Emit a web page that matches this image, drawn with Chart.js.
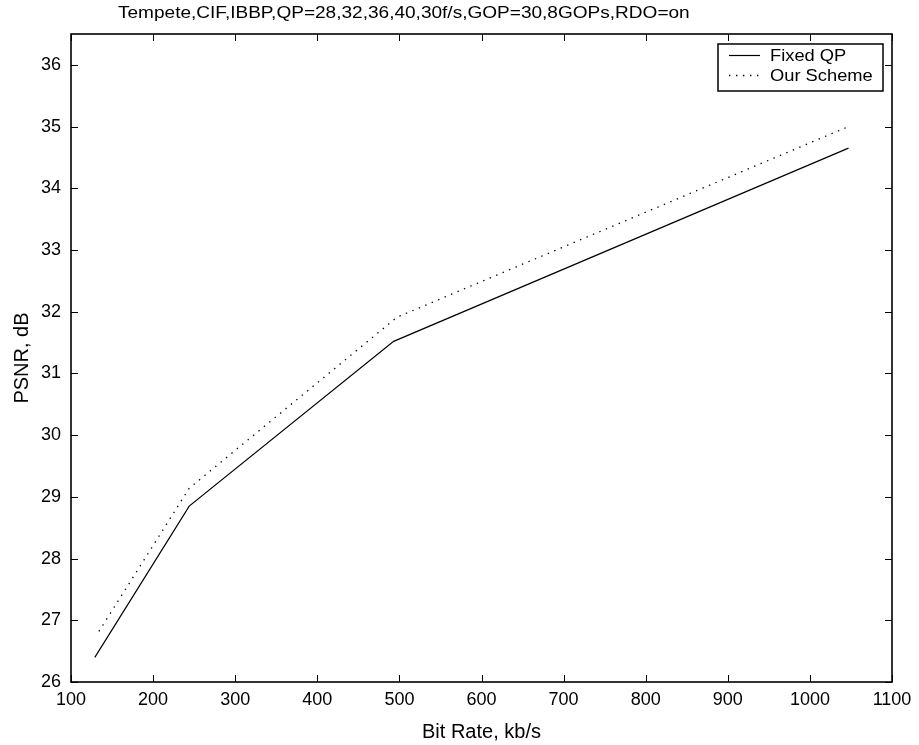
<!DOCTYPE html>
<html>
<head>
<meta charset="utf-8">
<script src="https://cdn.jsdelivr.net/npm/chart.js@4.4.1/dist/chart.umd.min.js"></script>
<style>
  html, body { margin: 0; padding: 0; background: #ffffff; }
  #wrap { width: 919px; height: 745px; }
</style>
</head>
<body>
<div id="wrap"><canvas id="c" width="919" height="745"></canvas></div>
<script>
// ---- data ----
const chartTitle = "Tempete,CIF,IBBP,QP=28,32,36,40,30f/s,GOP=30,8GOPs,RDO=on";
const xAxisTitle = "Bit Rate, kb/s";
const yAxisTitle = "PSNR, dB";
const seriesNames = ["Fixed QP", "Our Scheme"];

const fixedQpRate = [129, 244, 493, 1047];
const fixedQpPsnr = [26.40, 28.85, 31.52, 34.65];

const ourSchemeRate = [134, 244, 497, 1047];
const ourSchemePsnr = [26.82, 29.14, 31.91, 35.00];

const xTicks = [100, 200, 300, 400, 500, 600, 700, 800, 900, 1000, 1100];
const yTicks = [26, 27, 28, 29, 30, 31, 32, 33, 34, 35, 36];
const xRange = [100, 1100];
const yRange = [26, 36.5];

// ---- styling ----
const FONT = "'Liberation Sans', Arial, Helvetica, sans-serif";
const DOT_DASH = [1.4, 5.6];

function toPoints(xs, ys) { return xs.map((x, i) => ({ x: x, y: ys[i] })); }

const framePlugin = {
  id: 'frame',
  afterDraw(chart) {
    const ctx = chart.ctx;
    const a = chart.chartArea;
    const xs = chart.scales.x, ys = chart.scales.y;
    ctx.save();
    // box
    ctx.strokeStyle = '#000';
    ctx.lineWidth = 1.6;
    ctx.setLineDash([]);
    ctx.strokeRect(a.left, a.top, a.right - a.left, a.bottom - a.top);
    // inward ticks on all four sides
    const tl = 7;
    ctx.lineWidth = 1;
    ctx.beginPath();
    xTicks.forEach(v => {
      const px = Math.round(xs.getPixelForValue(v)) + 0.5;
      ctx.moveTo(px, a.bottom); ctx.lineTo(px, a.bottom - tl);
      ctx.moveTo(px, a.top); ctx.lineTo(px, a.top + tl);
    });
    yTicks.forEach(v => {
      const py = Math.round(ys.getPixelForValue(v)) + 0.5;
      ctx.moveTo(a.left, py); ctx.lineTo(a.left + tl, py);
      ctx.moveTo(a.right, py); ctx.lineTo(a.right - tl, py);
    });
    ctx.stroke();

    // title (slightly widened glyphs like the reference)
    ctx.fillStyle = '#000';
    ctx.font = '16px ' + FONT;
    ctx.textBaseline = 'middle';
    ctx.textAlign = 'left';
    ctx.save();
    ctx.translate(118, 14);
    ctx.scale(1.19, 1);
    ctx.fillText(chartTitle, 0, 0);
    ctx.restore();

    // legend box
    const lx = 718, ly = 44, lw = 165, lh = 47;
    ctx.fillStyle = '#fff';
    ctx.fillRect(lx, ly, lw, lh);
    ctx.lineWidth = 1.5;
    ctx.strokeStyle = '#000';
    ctx.strokeRect(lx, ly, lw, lh);
    const rows = [55.5, 75.5];
    ctx.font = '16.5px ' + FONT;
    chart.data.datasets.forEach((ds, i) => {
      ctx.beginPath();
      ctx.lineWidth = ds.borderWidth;
      ctx.setLineDash(ds.borderDash || []);
      ctx.moveTo(729, rows[i]); ctx.lineTo(760, rows[i]);
      ctx.stroke();
      ctx.setLineDash([]);
      ctx.save();
      ctx.translate(770, rows[i] + 1);
      ctx.scale(1.11, 1);
      ctx.fillStyle = '#000';
      ctx.fillText(ds.label, 0, 0);
      ctx.restore();
    });
    ctx.restore();
  }
};

new Chart(document.getElementById('c'), {
  type: 'line',
  data: {
    datasets: [
      {
        label: seriesNames[0],
        data: toPoints(fixedQpRate, fixedQpPsnr),
        borderColor: '#000',
        borderWidth: 1.2,
        pointRadius: 0,
        tension: 0,
        fill: false
      },
      {
        label: seriesNames[1],
        data: toPoints(ourSchemeRate, ourSchemePsnr),
        borderColor: '#000',
        borderWidth: 1.3,
        borderDash: DOT_DASH,
        pointRadius: 0,
        tension: 0,
        fill: false
      }
    ]
  },
  options: {
    responsive: false,
    devicePixelRatio: 1,
    animation: false,
    layout: { padding: { top: 34, right: 27, left: 0, bottom: 0 } },
    plugins: {
      legend: { display: false },
      title: { display: false },
      tooltip: { enabled: false }
    },
    scales: {
      x: {
        type: 'linear',
        min: xRange[0],
        max: xRange[1],
        afterBuildTicks: s => { s.ticks = xTicks.map(v => ({ value: v })); },
        afterFit: s => { s.height = 63; },
        grid: { display: false, drawTicks: false },
        border: { display: false },
        ticks: {
          padding: 7,
          color: '#000',
          maxRotation: 0,
          autoSkip: false,
          callback: v => String(v),
          font: { family: FONT, size: 18 }
        },
        title: {
          display: true,
          text: xAxisTitle,
          color: '#000',
          font: { family: FONT, size: 20 },
          padding: { top: 0, bottom: 1 }
        }
      },
      y: {
        type: 'linear',
        min: yRange[0],
        max: yRange[1],
        afterBuildTicks: s => { s.ticks = yTicks.map(v => ({ value: v })); },
        afterFit: s => { s.width = 71; },
        grid: { display: false, drawTicks: false },
        border: { display: false },
        ticks: {
          padding: 10,
          color: '#000',
          autoSkip: false,
          callback: v => String(v),
          font: { family: FONT, size: 18 }
        },
        title: {
          display: true,
          text: yAxisTitle,
          color: '#000',
          font: { family: FONT, size: 20 },
          padding: { top: 10, bottom: 0 }
        }
      }
    }
  },
  plugins: [framePlugin]
});
</script>
</body>
</html>
